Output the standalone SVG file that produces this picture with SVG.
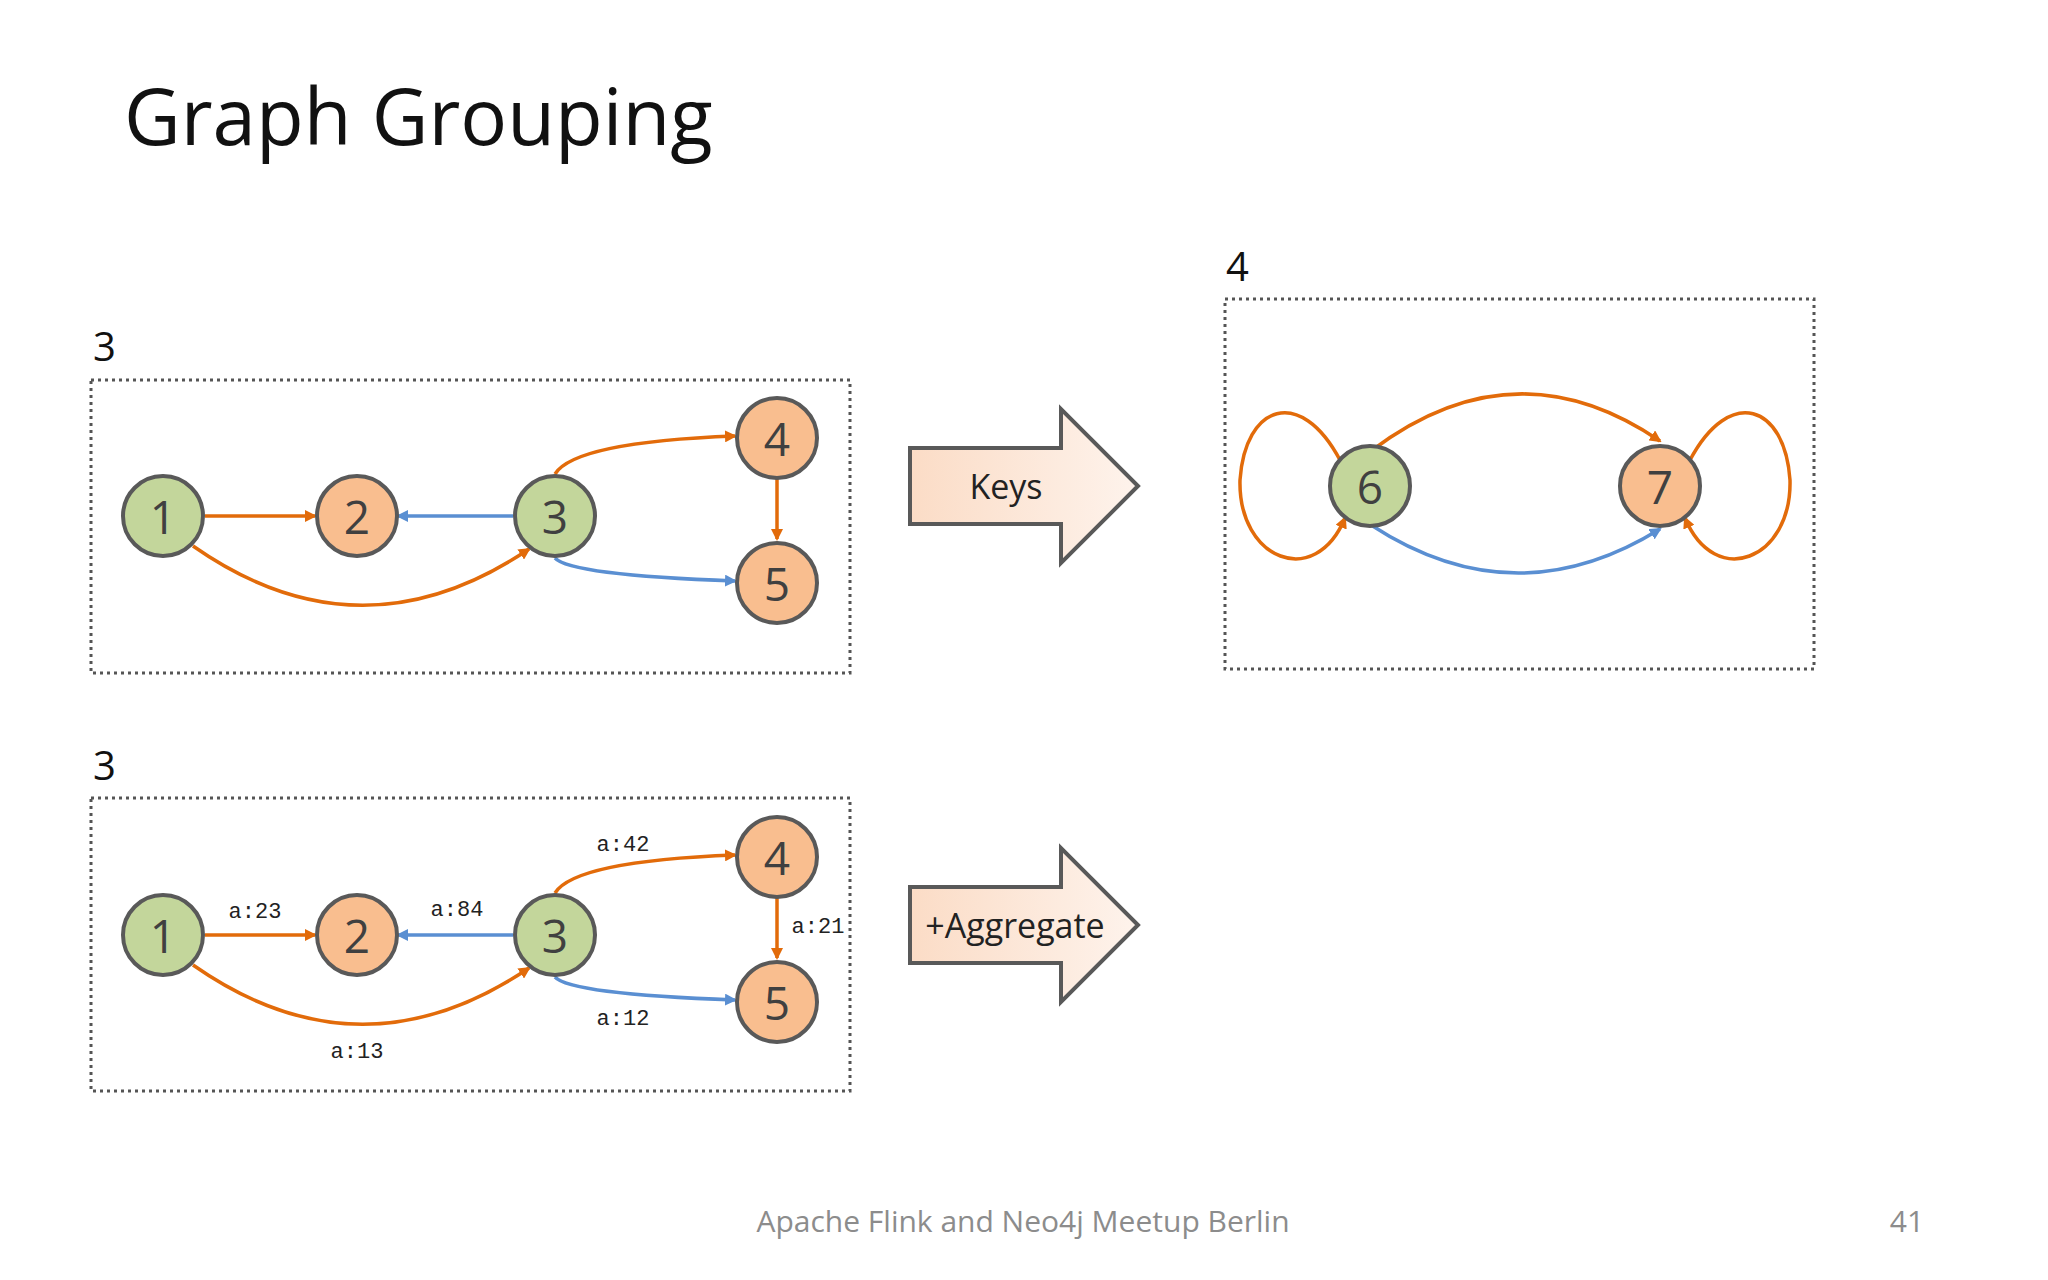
<svg xmlns="http://www.w3.org/2000/svg" width="2048" height="1280" viewBox="0 0 2048 1280">
<style>
.box{fill:none;stroke:#555;stroke-width:3;stroke-dasharray:3 4}
.g{fill:#C3D69B;stroke:#595959;stroke-width:4}
.o{fill:#F9BE8F;stroke:#595959;stroke-width:4}
.nt{font-family:"Open Sans",sans-serif;font-size:46px;fill:#404040;text-anchor:middle;dominant-baseline:central}
.eo{fill:none;stroke:#E26B0A;stroke-width:3.5;marker-end:url(#ao)}
.eb{fill:none;stroke:#5A8FD2;stroke-width:3.5;marker-end:url(#ab)}
.lbl{font-family:"Liberation Mono",monospace;font-size:22px;fill:#222;text-anchor:middle}
.num{font-family:"Open Sans",sans-serif;font-size:40px;fill:#111}
.ar{fill:url(#gr);stroke:#595959;stroke-width:4}
.at{font-family:"Open Sans",sans-serif;font-size:34px;fill:#222;text-anchor:middle;dominant-baseline:central}
</style>
<defs>
<marker id="ao" markerWidth="12" markerHeight="12" refX="10" refY="6" orient="auto" markerUnits="userSpaceOnUse"><path d="M0,0 L12,6 L0,12 z" fill="#E26B0A"/></marker>
<marker id="ab" markerWidth="12" markerHeight="12" refX="10" refY="6" orient="auto" markerUnits="userSpaceOnUse"><path d="M0,0 L12,6 L0,12 z" fill="#5A8FD2"/></marker>
<linearGradient id="gr" x1="0" x2="1" y1="0" y2="0"><stop offset="0" stop-color="#FBDCC6"/><stop offset="1" stop-color="#FEF3EC"/></linearGradient>
</defs>
<rect width="2048" height="1280" fill="#fff"/>
<text x="124" y="145" font-family="Open Sans,sans-serif" font-size="78" fill="#111">Graph Grouping</text>

<text class="num" x="93" y="361">3</text>
<rect class="box" x="91" y="380" width="759" height="293"/>
<g id="edges1">
<path class="eo" d="M205,516 L315,516"/>
<path class="eb" d="M513,516 L398,516"/>
<path class="eo" d="M193,546 Q360,663 529,549"/>
<path class="eo" d="M555,474 Q575,442 735,436"/>
<path class="eb" d="M555,558 Q570,575 735,581"/>
<path class="eo" d="M777,479 L777,539"/>
</g>
<g id="n1a"><circle class="g" cx="163" cy="516" r="40"/><text class="nt" x="163" y="516">1</text></g>
<g id="n2a"><circle class="o" cx="357" cy="516" r="40"/><text class="nt" x="357" y="516">2</text></g>
<g id="n3a"><circle class="g" cx="555" cy="516" r="40"/><text class="nt" x="555" y="516">3</text></g>
<g id="n4a"><circle class="o" cx="777" cy="438" r="40"/><text class="nt" x="777" y="438">4</text></g>
<g id="n5a"><circle class="o" cx="777" cy="583" r="40"/><text class="nt" x="777" y="583">5</text></g>

<text class="num" x="93" y="780">3</text>
<rect class="box" x="91" y="798" width="759" height="293"/>
<g id="edges2">
<path class="eo" d="M205,935 L315,935"/>
<path class="eb" d="M513,935 L398,935"/>
<path class="eo" d="M193,965 Q360,1082 529,968"/>
<path class="eo" d="M555,893 Q575,861 735,855"/>
<path class="eb" d="M555,977 Q570,994 735,1000"/>
<path class="eo" d="M777,898 L777,958"/>
</g>
<g id="lbls">
<text class="lbl" x="255" y="918">a:23</text>
<text class="lbl" x="457" y="916">a:84</text>
<text class="lbl" x="623" y="851">a:42</text>
<text class="lbl" x="818" y="933">a:21</text>
<text class="lbl" x="623" y="1025">a:12</text>
<text class="lbl" x="357" y="1058">a:13</text>
</g>
<g id="n1b"><circle class="g" cx="163" cy="935" r="40"/><text class="nt" x="163" y="935">1</text></g>
<g id="n2b"><circle class="o" cx="357" cy="935" r="40"/><text class="nt" x="357" y="935">2</text></g>
<g id="n3b"><circle class="g" cx="555" cy="935" r="40"/><text class="nt" x="555" y="935">3</text></g>
<g id="n4b"><circle class="o" cx="777" cy="857" r="40"/><text class="nt" x="777" y="857">4</text></g>
<g id="n5b"><circle class="o" cx="777" cy="1002" r="40"/><text class="nt" x="777" y="1002">5</text></g>

<g id="keys"><path class="ar" d="M910,448 L1061,448 L1061,409 L1138,486 L1061,563 L1061,524 L910,524 z"/><text class="at" x="1006" y="486">Keys</text></g>
<g id="agg"><path class="ar" d="M910,887 L1061,887 L1061,848 L1138,925 L1061,1002 L1061,963 L910,963 z"/><text class="at" x="1015" y="925">+Aggregate</text></g>

<text class="num" x="1226" y="281">4</text>
<rect class="box" x="1225" y="299" width="589" height="370"/>
<g id="edges3">
<path class="eo" d="M1371,451 Q1515,342 1660,441"/>
<path class="eb" d="M1371,525 Q1515,619 1660,529"/>
<path class="eo" d="M1340,460 C1300,385 1245,405 1240,480 C1238,560 1315,590 1345,518"/>
<path class="eo" d="M1690,460 C1730,385 1785,405 1790,480 C1792,560 1715,590 1685,518"/>
</g>
<g id="n6"><circle class="g" cx="1370" cy="486" r="40"/><text class="nt" x="1370" y="486">6</text></g>
<g id="n7"><circle class="o" cx="1660" cy="486" r="40"/><text class="nt" x="1660" y="486">7</text></g>

<text x="1023" y="1232" text-anchor="middle" font-family="Open Sans,sans-serif" font-size="30" fill="#8c8c8c">Apache Flink and Neo4j Meetup Berlin</text>
<text x="1907" y="1232" text-anchor="middle" font-family="Open Sans,sans-serif" font-size="30" fill="#8c8c8c">41</text>
</svg>
